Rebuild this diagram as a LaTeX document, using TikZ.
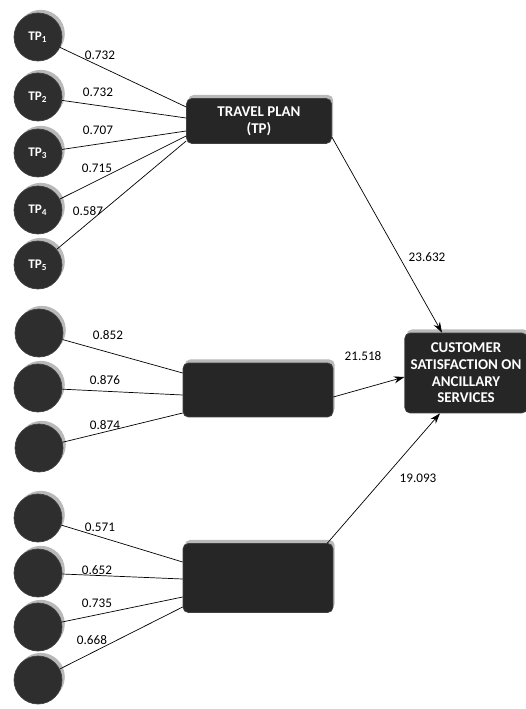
\documentclass[tikz,border=0pt]{standalone}
\usepackage{fontspec}
\setmainfont{Carlito}
\usetikzlibrary{arrows.meta,shadows,calc}

\tikzset{
  ind/.style={circle, draw=black!75, fill=black!82, minimum size=0.96cm, inner sep=0pt,
    text=white, font=\bfseries\fontsize{7.5}{8}\selectfont,
    drop shadow={shadow xshift=1.6pt, shadow yshift=1.8pt, fill=gray!55, opacity=1}},
  latent/.style={rectangle, rounded corners=3pt, draw=black!75, fill=black!85, text=white,
    align=center, font=\bfseries\fontsize{8.5}{9.5}\selectfont,
    drop shadow={shadow xshift=1pt, shadow yshift=2pt, fill=gray!55, opacity=1}},
  load/.style={font=\fontsize{7.5}{8}\selectfont, inner sep=1pt},
  effect/.style={-{Stealth[length=6pt,width=4pt]}},
}

\begin{document}
\begin{tikzpicture}[x=0.02cm, y=-0.02cm]
\useasboundingbox (0,0) rectangle (525,709);

\node[ind] (tp1) at (38,37) {TP\textsubscript{1}};
\node[ind] (tp2) at (38,97) {TP\textsubscript{2}};
\node[ind] (tp3) at (38,153) {TP\textsubscript{3}};
\node[ind] (tp4) at (38,210) {TP\textsubscript{4}};
\node[ind] (tp5) at (38,265) {TP\textsubscript{5}};

\node[ind] (m1) at (39,333) {};
\node[ind] (m2) at (38,388) {};
\node[ind] (m3) at (39,448) {};

\node[ind] (b1) at (38,518) {};
\node[ind] (b2) at (38,573) {};
\node[ind] (b3) at (38,627) {};
\node[ind] (b4) at (38,680) {};

\node[latent, minimum width=2.9cm, minimum height=0.9cm] (tp) at (259,121) {TRAVEL PLAN\\(TP)};
\node[latent, minimum width=3.0cm, minimum height=1.08cm] (mid) at (258,390) {};
\node[latent, minimum width=3.0cm, minimum height=1.38cm] (bot) at (258,578) {};
\node[latent, minimum width=2.3cm, minimum height=1.6cm] (cs) at (466,373)
  {CUSTOMER\\SATISFACTION ON\\ANCILLARY\\SERVICES};

\draw (tp1) -- ($(tp.west)+(0,-14)$);
\draw (tp2) -- ($(tp.west)+(0,-3)$);
\draw (tp3) -- ($(tp.west)+(0,10)$);
\draw (tp4) -- ($(tp.west)+(0,15)$);
\draw (tp5) -- ($(tp.west)+(0,20)$);

\draw (m1) -- ($(mid.west)+(0,-17)$);
\draw (m2) -- ($(mid.west)+(0,5)$);
\draw (m3) -- ($(mid.west)+(0,23)$);

\draw (b1) -- ($(bot.west)+(0,-16)$);
\draw (b2) -- ($(bot.west)+(0,1)$);
\draw (b3) -- ($(bot.west)+(0,19)$);
\draw (b4) -- ($(bot.west)+(0,29)$);

\draw[effect] ($(tp.east)+(0,16)$) -- ($(cs.north)+(-24,0)$);
\draw[effect] ($(mid.east)+(0,7)$) -- ($(cs.west)+(0,4)$);
\draw[effect] ($(bot.north east)+(-6,0)$) -- ($(cs.south)+(-26,0)$);

\node[load] (l1) at (100,55) {0.732};
\node[load] (l2) at (98,92) {0.732};
\node[load] (l3) at (98,130) {0.707};
\node[load] (l4) at (97,168) {0.715};
\node[load] (l5) at (88,211) {0.587};
\node[load] (l6) at (108,335) {0.852};
\node[load] (l7) at (105,380) {0.876};
\node[load] (l8) at (105,425) {0.874};
\node[load] (l9) at (100,527) {0.571};
\node[load] (l10) at (97,570) {0.652};
\node[load] (l11) at (97,603) {0.735};
\node[load] (l12) at (92,640) {0.668};
\node[load] (l13) at (427,257) {23.632};
\node[load] (l14) at (363,356) {21.518};
\node[load] (l15) at (418,478) {19.093};
\end{tikzpicture}
\end{document}
